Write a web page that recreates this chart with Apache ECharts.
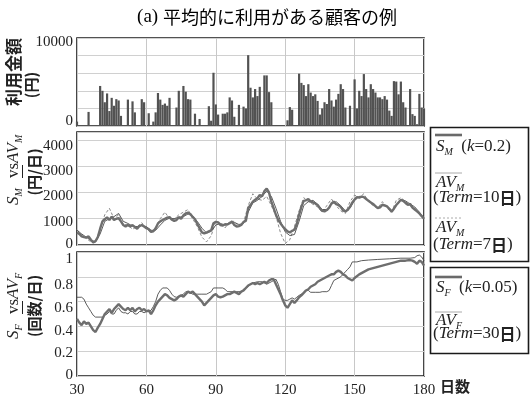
<!DOCTYPE html>
<html>
<head>
<meta charset="utf-8">
<script src="https://cdn.jsdelivr.net/npm/echarts@6/dist/echarts.min.js"></script>
<style>
html,body{margin:0;padding:0;background:#fff;}
#chart{width:530px;height:398px;}
</style>
</head>
<body>
<div id="chart"></div>
<script>
// Daily spend (yen), days 30..180
const spendDays = [];
for (let d = 30; d <= 180; d++) spendDays.push(d);
const spendYen = [
  500,0,0,0,0,1600,0,0,0,0,            // 30-39
  4550,4000,2700,3700,1700,3200,2300,3050,2900,1150, // 40-49
  0,0,3000,0,2800,1550,0,0,3050,2700,  // 50-59
  0,1450,0,500,1550,3750,3000,2400,2550,2300, // 60-69
  3200,0,0,2100,4000,0,4550,3900,3050,3000,  // 70-79
  0,1400,0,800,0,0,0,2250,600,6050,          // 80-89
  2450,1300,0,1400,1400,1550,3250,2900,1050,0, // 90-99
  2400,0,2200,2000,8050,4350,3250,4200,3400,4450, // 100-109
  0,5750,5750,3850,2700,0,0,0,0,0,           // 110-119
  0,650,2150,1850,0,0,5950,4900,4650,3400,   // 120-129
  4750,3800,3400,3600,2850,1300,2000,2700,2500,4200, // 130-139
  2900,2200,3000,3650,4750,4200,2100,0,2300,0, // 140-149
  5300,2000,4000,3400,5900,4200,3250,4750,4200,3800, // 150-159
  3250,3250,3050,3400,3000,1750,1150,5100,5050,3600, // 160-169
  5050,2700,2100,0,4200,1350,1150,200,3650,2100, // 170-179
  2000                                        // 180
];

// Smoothed spend S_M (k=0.2), yen/day
const smoothSpend = [
  [30,480],[31,420],[32,330],[33,300],[34,280],[35,330],[36,200],[37,100],[38,150],[39,300],
  [40,620],[41,900],[42,980],[43,1050],[44,950],[45,1080],[46,950],[47,1000],[48,1020],[49,900],
  [50,760],[51,700],[52,760],[53,700],[54,760],[55,680],[56,620],[57,720],[58,760],[59,700],
  [60,640],[61,600],[62,500],[63,520],[64,640],[65,820],[66,900],[67,950],[68,1000],[69,1040],
  [70,1060],[71,960],[72,920],[73,950],[74,1050],[75,1000],[76,1130],[77,1200],[78,1230],[79,1180],
  [80,1070],[81,980],[82,800],[83,640],[84,480],[85,440],[86,470],[87,520],[88,560],[89,830],
  [90,880],[91,860],[92,760],[93,740],[94,790],[95,780],[96,830],[97,890],[98,760],[99,700],
  [100,720],[101,760],[102,880],[103,920],[104,1400],[105,1520],[106,1650],[107,1720],[108,1780],[109,1900],
  [110,1850],[111,2050],[112,2150],[113,2000],[114,1650],[115,1400],[116,1150],[117,950],[118,820],[119,700],
  [120,600],[121,520],[122,480],[123,540],[124,580],[125,800],[126,1150],[127,1450],[128,1680],[129,1700],
  [130,1750],[131,1650],[132,1620],[133,1580],[134,1520],[135,1400],[136,1300],[137,1280],[138,1330],[139,1420],
  [140,1580],[141,1650],[142,1560],[143,1520],[144,1450],[145,1320],[146,1280],[147,1330],[148,1450],[149,1620],
  [150,1730],[151,1820],[152,1800],[153,1840],[154,1820],[155,1750],[156,1680],[157,1620],[158,1560],[159,1480],
  [160,1400],[161,1430],[162,1530],[163,1510],[164,1470],[165,1380],[166,1270],[167,1380],[168,1520],[169,1620],
  [170,1720],[171,1680],[172,1600],[173,1530],[174,1560],[175,1420],[176,1350],[177,1280],[178,1200],[179,1100],
  [180,1000]
];

// Moving average AV_M, 10-day window
const avgSpend10 = [
  [30,560],[32,420],[34,300],[36,180],[38,120],[40,420],[42,900],[44,1000],[46,1080],[48,1200],
  [50,900],[52,820],[54,720],[56,700],[58,740],[60,700],[62,560],[64,560],[66,760],[68,940],
  [70,1020],[72,1000],[74,1060],[76,1080],[78,1180],[80,1100],[82,900],[84,640],[86,460],[88,520],
  [90,760],[92,820],[94,760],[96,840],[98,860],[100,780],[102,820],[104,1250],[106,1600],[108,1700],
  [110,1850],[112,2050],[114,1850],[116,1400],[118,900],[120,500],[122,360],[124,400],[126,900],[128,1500],
  [130,1650],[132,1700],[134,1550],[136,1350],[138,1350],[140,1550],[142,1650],[144,1500],[146,1300],[148,1400],
  [150,1700],[152,1850],[154,1800],[156,1700],[158,1550],[160,1420],[162,1500],[164,1480],[166,1320],[168,1500],
  [170,1720],[172,1680],[174,1560],[176,1450],[178,1250],[180,1000]
];

// Moving average AV_M, 7-day window
const avgSpend7 = [
  [30,580],[32,400],[34,250],[36,120],[38,100],[40,600],[42,1150],[44,1400],[46,1000],[48,1150],
  [50,800],[52,760],[54,600],[56,700],[58,850],[60,620],[62,480],[64,650],[66,1000],[68,1250],
  [70,1000],[72,980],[74,1150],[76,1250],[78,1350],[80,1000],[82,700],[84,300],[86,120],[88,350],
  [90,900],[92,830],[94,650],[96,900],[98,900],[100,700],[102,850],[104,1500],[106,1950],[108,1750],
  [110,1700],[112,1850],[114,1500],[116,1100],[118,450],[120,60],[122,200],[124,700],[126,1300],[128,1800],
  [130,1650],[132,1550],[134,1450],[136,1250],[138,1500],[140,1750],[142,1500],[144,1300],[146,1200],[148,1650],
  [150,1900],[152,1800],[154,1950],[156,1650],[158,1500],[160,1400],[162,1650],[164,1400],[166,1250],[168,1700],
  [170,1800],[172,1650],[174,1500],[176,1400],[178,1200],[180,1050]
];

// Smoothed frequency S_F (k=0.05), visits/day
const smoothFreq = [
  [30,0.46],[31,0.43],[32,0.41],[33,0.44],[34,0.42],[35,0.43],[36,0.40],[37,0.37],[38,0.355],[39,0.39],
  [40,0.42],[41,0.46],[42,0.50],[43,0.52],[44,0.54],[45,0.51],[46,0.54],[47,0.56],[48,0.58],[49,0.56],
  [50,0.54],[51,0.53],[52,0.55],[53,0.53],[54,0.55],[55,0.52],[56,0.54],[57,0.55],[58,0.53],[59,0.54],
  [60,0.52],[61,0.53],[62,0.50],[63,0.53],[64,0.57],[65,0.60],[66,0.62],[67,0.64],[68,0.66],[69,0.65],
  [70,0.63],[71,0.62],[72,0.61],[73,0.62],[74,0.64],[75,0.65],[76,0.64],[77,0.66],[78,0.68],[79,0.67],
  [80,0.68],[81,0.66],[82,0.64],[83,0.62],[84,0.60],[85,0.57],[86,0.59],[87,0.61],[88,0.63],[89,0.65],
  [90,0.66],[91,0.64],[92,0.635],[93,0.64],[94,0.65],[95,0.66],[96,0.66],[97,0.67],[98,0.68],[99,0.67],
  [100,0.66],[101,0.68],[102,0.69],[103,0.71],[104,0.73],[105,0.74],[106,0.75],[107,0.74],[108,0.75],[109,0.74],
  [110,0.75],[111,0.76],[112,0.75],[113,0.77],[114,0.78],[115,0.78],[116,0.74],[117,0.70],[118,0.66],[119,0.61],
  [120,0.57],[121,0.55],[122,0.58],[123,0.61],[124,0.59],[125,0.61],[126,0.635],[127,0.65],[128,0.67],[129,0.69],
  [130,0.70],[131,0.72],[132,0.73],[133,0.74],[134,0.76],[135,0.77],[136,0.78],[137,0.79],[138,0.80],[139,0.81],
  [140,0.82],[141,0.82],[142,0.84],[143,0.85],[144,0.84],[145,0.82],[146,0.81],[147,0.79],[148,0.78],[149,0.77],
  [150,0.79],[152,0.82],[154,0.84],[156,0.86],[158,0.87],[160,0.88],[162,0.89],[164,0.90],[166,0.91],[168,0.92],
  [170,0.93],[172,0.93],[174,0.935],[175,0.93],[176,0.92],[177,0.905],[178,0.93],[179,0.92],[180,0.89]
];

// Moving average AV_F, 30-day window
const avgFreq30 = [
  [30,0.635],[32,0.635],[33,0.62],[34,0.58],[35,0.55],[36,0.52],[37,0.49],[38,0.475],[40,0.475],[41,0.475],
  [42,0.49],[43,0.50],[44,0.52],[45,0.50],[46,0.50],[47,0.53],[48,0.55],[49,0.52],[50,0.51],[51,0.51],
  [52,0.50],[53,0.52],[54,0.52],[55,0.50],[56,0.50],[57,0.52],[58,0.52],[59,0.51],[60,0.52],[61,0.52],
  [62,0.53],[63,0.56],[64,0.60],[65,0.66],[66,0.69],[67,0.71],[68,0.71],[69,0.71],[70,0.69],[71,0.66],
  [72,0.64],[73,0.635],[74,0.64],[75,0.65],[76,0.66],[77,0.68],[78,0.68],[79,0.67],[80,0.66],[82,0.66],
  [84,0.66],[86,0.66],[87,0.67],[88,0.68],[89,0.71],[91,0.71],[93,0.71],[94,0.70],[95,0.68],[97,0.68],
  [99,0.68],[101,0.68],[102,0.70],[103,0.71],[104,0.72],[105,0.74],[106,0.75],[108,0.76],[110,0.76],[111,0.75],
  [112,0.74],[113,0.75],[114,0.76],[115,0.77],[116,0.78],[117,0.74],[118,0.68],[119,0.62],[120,0.61],[121,0.61],
  [122,0.62],[123,0.63],[124,0.62],[125,0.635],[126,0.65],[127,0.66],[128,0.67],[129,0.69],[130,0.69],[131,0.675],
  [133,0.675],[135,0.675],[136,0.68],[138,0.68],[139,0.69],[140,0.73],[141,0.77],[142,0.78],[144,0.80],[145,0.82],
  [146,0.84],[147,0.86],[148,0.88],[149,0.92],[151,0.92],[153,0.93],[156,0.935],[160,0.94],[165,0.945],[170,0.95],
  [174,0.95],[176,0.955],[177,0.97],[178,0.975],[179,0.96],[180,0.93]
];

const dayTicks = [30, 60, 90, 120, 150, 180];
const spendTicks = [0, 10000];
const rateTicks = [0, 1000, 2000, 3000, 4000];
const freqTicks = [0, 0.2, 0.4, 0.6, 0.8, 1];

const SERIF = 'Liberation Serif';
const CJK = 'Noto Sans CJK JP';
const INK = '#222';

const chart = echarts.init(document.getElementById('chart'), null, {renderer: 'canvas'});

const grids = [
  {left: 77, top: 38, width: 347, height: 88},
  {left: 77, top: 132, width: 347, height: 113},
  {left: 77, top: 252, width: 347, height: 126}
].map(g => Object.assign({show: true, borderColor: '#1a1a1a', borderWidth: 1.6, backgroundColor: '#fff'}, g));

// y tick labels sit a few pixels off their gridlines; each label gets its own nudge (px, + = down)
function nudgedLabels(ticks, nudges, fmtText) {
  const rich = {};
  ticks.forEach((t, k) => {
    const d = nudges[k];
    rich['t' + k] = {fontFamily: SERIF, fontSize: 15, color: INK,
      padding: d >= 0 ? [2 * d, 0, 0, 0] : [0, 0, -2 * d, 0]};
  });
  return {
    rich: rich,
    formatter: v => {
      const k = ticks.findIndex(t => Math.abs(t - v) < 1e-9);
      return k < 0 ? '' : '{t' + k + '|' + fmtText(v) + '}';
    }
  };
}

function xAxisFor(i, showLabels) {
  return {
    type: 'value', gridIndex: i, min: dayTicks[0], max: dayTicks[dayTicks.length - 1], interval: 30,
    axisLine: {show: false}, axisTick: {show: false},
    splitLine: {show: true, lineStyle: {color: '#c8c8c8', width: 1}},
    axisLabel: {show: showLabels, fontFamily: SERIF, fontSize: 15, color: INK, margin: 7}
  };
}
function yAxisFor(i, max, interval, labels) {
  return {
    type: 'value', gridIndex: i, min: 0, max: max, interval: interval,
    axisLine: {show: false}, axisTick: {show: false},
    splitLine: {show: true, lineStyle: {color: '#d0d0d0', width: 1}},
    axisLabel: Object.assign({fontFamily: SERIF, fontSize: 15, color: INK, margin: 4}, labels)
  };
}

const subRich = {
  i: {fontFamily: SERIF, fontStyle: 'italic', fontSize: 17, color: INK, lineHeight: 20},
  n: {fontFamily: SERIF, fontSize: 17, color: INK, lineHeight: 20},
  s: {fontFamily: SERIF, fontStyle: 'italic', fontSize: 10, color: INK, lineHeight: 20, verticalAlign: 'bottom'},
  j: {fontFamily: CJK, fontSize: 16, fontWeight: 'bold', color: INK, lineHeight: 20}
};

function richText(x, y, text) {
  return {
    type: 'text', x: x, y: y, silent: true,
    style: {text: text, rich: subRich, align: 'left', verticalAlign: 'middle', fill: INK}
  };
}

// rotated two-line axis names
function axisNameGroup(cx, cy, parts, second, secondShift) {
  const children = parts.map(p => ({
    type: 'text', x: p.x, y: -8, silent: true,
    style: {text: p.t, rich: subRich, align: 'left', verticalAlign: 'middle', fill: INK}
  }));
  if (parts.underline) {
    children.push({type: 'line', silent: true,
      shape: {x1: parts.underline[0], y1: 0.5, x2: parts.underline[1], y2: 0.5},
      style: {stroke: INK, lineWidth: 1}});
  }
  children.push({
    type: 'text', x: secondShift, y: 12, silent: true,
    style: {text: second, font: 'bold 15px "' + CJK + '"', align: 'center', verticalAlign: 'middle', fill: INK}
  });
  return {type: 'group', x: cx, y: cy, rotation: Math.PI / 2, silent: true, children: children};
}

const midParts = [{x: -33, t: '{i|S}{s|M}'}, {x: -6, t: '{n|vs}'}, {x: 9, t: '{i|AV}{s|M}'}];
midParts.underline = [-6, 7];
const lowParts = [{x: -33, t: '{i|S}{s|F}'}, {x: -8, t: '{n|vs}'}, {x: 7, t: '{i|AV}{s|F}'}];
lowParts.underline = [-8, 5];

const graphics = [
  // title
  {type: 'text', x: 267, y: 17, silent: true,
   style: {text: '{a|(a) }{b|平均的に利用がある顧客の例}',
     rich: {a: {fontFamily: SERIF, fontSize: 19, color: '#2a2a2a'}, b: {fontFamily: CJK, fontSize: 18, color: '#2a2a2a'}},
     align: 'center', verticalAlign: 'middle'}},
  // top panel name
  {type: 'group', x: 22, y: 72, rotation: Math.PI / 2, silent: true, children: [
    {type: 'text', x: 0, y: -8, style: {text: '利用金額', font: 'bold 17px "' + CJK + '"', align: 'center', verticalAlign: 'middle', fill: INK}},
    {type: 'text', x: -13, y: 9, style: {text: '(円)', font: 'bold 15px "' + CJK + '"', align: 'center', verticalAlign: 'middle', fill: INK}}
  ]},
  axisNameGroup(22, 172, midParts, '(円/日)', 0),
  axisNameGroup(22, 306, lowParts, '(回数/日)', 0),
  // x axis unit
  {type: 'text', x: 440, y: 386, silent: true,
   style: {text: '日数', font: 'bold 15px "' + CJK + '"', align: 'left', verticalAlign: 'middle', fill: INK}},
  // legend box 1
  {type: 'rect', shape: {x: 430.5, y: 127.5, width: 98, height: 134}, silent: true,
   style: {fill: '#fff', stroke: '#1a1a1a', lineWidth: 1.6}},
  {type: 'line', shape: {x1: 435, y1: 135, x2: 462, y2: 135}, silent: true, style: {stroke: '#6a6a6a', lineWidth: 2.6}},
  richText(436, 147, '{i|S}{s|M}{n|  (}{i|k}{n|=0.2)}'),
  {type: 'line', shape: {x1: 435, y1: 173, x2: 462, y2: 173}, silent: true, style: {stroke: '#aaa', lineWidth: 1}},
  richText(436, 183, '{i|AV}{s|M}'),
  richText(433, 198, '{n|(}{i|Term}{n|=10}{j|日}{n|)}'),
  {type: 'line', shape: {x1: 435, y1: 218, x2: 462, y2: 218}, silent: true, style: {stroke: '#aaa', lineWidth: 1, lineDash: [2, 2]}},
  richText(436, 228, '{i|AV}{s|M}'),
  richText(433, 245, '{n|(}{i|Term}{n|=7}{j|日}{n|)}'),
  // legend box 2
  {type: 'rect', shape: {x: 430.5, y: 267.5, width: 98, height: 86}, silent: true,
   style: {fill: '#fff', stroke: '#1a1a1a', lineWidth: 1.6}},
  {type: 'line', shape: {x1: 435, y1: 277, x2: 462, y2: 277}, silent: true, style: {stroke: '#6a6a6a', lineWidth: 2.6}},
  richText(436, 288, '{i|S}{s|F}{n|  (}{i|k}{n|=0.05)}'),
  {type: 'line', shape: {x1: 435, y1: 312, x2: 462, y2: 312}, silent: true, style: {stroke: '#aaa', lineWidth: 1}},
  richText(436, 321, '{i|AV}{s|F}'),
  richText(433, 334, '{n|(}{i|Term}{n|=30}{j|日}{n|)}')
];

const option = {
  backgroundColor: '#fff',
  animation: false,
  textStyle: {fontFamily: SERIF},
  grid: grids,
  xAxis: [xAxisFor(0, false), xAxisFor(1, false), xAxisFor(2, true)],
  yAxis: [
    yAxisFor(0, 10000, 2000, nudgedLabels(spendTicks, [-5, 4], v => String(v))),
    yAxisFor(1, 4300, 1000, nudgedLabels(rateTicks, [-1, 3, 4, 5, 6], v => String(v))),
    yAxisFor(2, 1, 0.2, nudgedLabels(freqTicks, [-1, 1.5, 4.5, 6, 8, 7.5], v => String(Math.round(v * 10) / 10)))
  ],
  series: [
    {type: 'bar', xAxisIndex: 0, yAxisIndex: 0, barWidth: 2.2,
     itemStyle: {color: '#525252'},
     data: spendDays.map((d, i) => [d, spendYen[i]])},
    {type: 'line', xAxisIndex: 1, yAxisIndex: 1, data: avgSpend7, symbol: 'none',
     lineStyle: {color: '#8a8a8a', width: 1, type: [3, 2]}, z: 2},
    {type: 'line', xAxisIndex: 1, yAxisIndex: 1, data: avgSpend10, symbol: 'none',
     lineStyle: {color: '#4a4a4a', width: 0.9}, z: 3},
    {type: 'line', xAxisIndex: 1, yAxisIndex: 1, data: smoothSpend, symbol: 'none',
     lineStyle: {color: '#6e6e6e', width: 2.4}, z: 4},
    {type: 'line', xAxisIndex: 2, yAxisIndex: 2, data: avgFreq30, symbol: 'none',
     lineStyle: {color: '#4a4a4a', width: 0.9}, z: 3},
    {type: 'line', xAxisIndex: 2, yAxisIndex: 2, data: smoothFreq, symbol: 'none',
     lineStyle: {color: '#6e6e6e', width: 2.4}, z: 4}
  ],
  graphic: graphics
};

chart.setOption(option);
</script>
</body>
</html>
